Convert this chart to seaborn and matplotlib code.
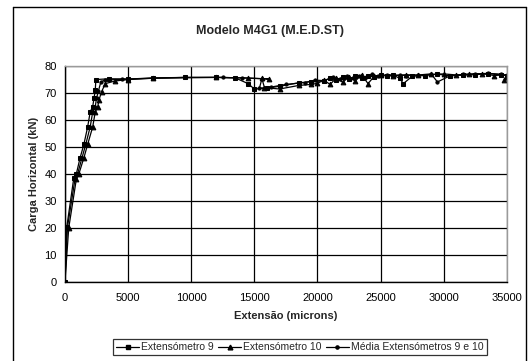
import matplotlib
matplotlib.use("Agg")
import matplotlib.pyplot as plt
import seaborn as sns
import pandas as pd
from matplotlib.lines import Line2D

sns.set_style("white")
plt.rcParams["font.family"] = ["Liberation Sans", "DejaVu Sans"]

title = "Modelo M4G1 (M.E.D.ST)"
xlabel = "Extensão (microns)"
ylabel = "Carga Horizontal (kN)"
series_names = ["Extensómetro 9", "Extensómetro 10", "Média Extensómetros 9 e 10"]

# Extensómetro 9
ext9_x = [0, 150, 700, 900, 1200, 1500, 1800, 2000, 2200, 2300, 2400, 2450, 3500, 5000,
          7000, 9500, 12000, 13500, 14500, 15000, 16000, 17000, 18500, 19500, 20500,
          21000, 21500, 22000, 22500, 23000, 23500, 24000, 24500, 25000, 25500, 26000,
          26500, 26800, 27500, 28500, 29500, 30500, 31500, 32500, 33500, 34500, 35000]
ext9_y = [0, 20.5, 38.5, 40, 46, 51, 57.5, 63, 65, 68, 71, 75, 75.3, 75.2,
          75.6, 75.8, 75.8, 75.6, 73.5, 71.5, 71.8, 72.5, 73.8, 74.2, 74.5,
          75.5, 74.8, 75.8, 75.2, 76.2, 75.6, 76.5, 75.8, 76.8, 76.2, 76.6,
          75.5, 73.5, 76.2, 76.5, 77.0, 76.4, 76.6, 76.8, 77.2, 76.8, 76.5]

# Extensómetro 10
ext10_x = [0, 300, 900, 1100, 1500, 1800, 2200, 2400, 2600, 2700, 2900, 3200, 4000, 5000,
           7000, 12000, 14500, 16200, 15600, 15800, 17000, 18500, 19500, 20000, 20500,
           21000, 21500, 22000, 22500, 23000, 23500, 24000, 24500, 25000, 26000,
           27000, 28000, 29000, 30000, 31000, 32000, 33000, 34000, 35000, 35200, 34800]
ext10_y = [0, 20, 38, 40, 46, 51, 57.5, 63, 65, 67.5, 70.5, 73.5, 74.5, 75,
           75.5, 75.8, 75.6, 75.2, 75.4, 72, 71.5, 72.8, 73.2, 73.6, 74.8,
           73.2, 75.6, 74, 76, 74.5, 76.8, 73.5, 76.2, 76.6, 76.4,
           76.8, 76.6, 76.9, 77.1, 76.7, 77.0, 77.2, 76.5, 76.8, 75.5, 75.0]

# Média Extensómetros 9 e 10
med_x = [0, 200, 800, 1000, 1350, 1650, 2000, 2200, 2400, 2500, 2650, 2850, 3200, 4500,
         7000, 9500, 12500, 14000, 15600, 15400, 16300, 17500, 19000, 19800, 20500,
         21200, 21800, 22300, 22800, 23300, 23800, 24300, 24800, 25500, 26500,
         27000, 28000, 29000, 29500, 30500, 31500, 32500, 33500, 34500, 35100, 34900]
med_y = [0, 20.3, 38.2, 40, 46, 51, 57.5, 63, 65, 68, 70.8, 74.2, 74.8, 75.1,
         75.5, 75.8, 75.8, 75.6, 75.3, 71.8, 72.2, 73.2, 73.9, 74.8, 74.6,
         75.8, 75.2, 76.3, 75.4, 76.5, 75.6, 76.9, 76.2, 76.8, 76.6,
         76.5, 76.7, 77.1, 74.1, 76.4, 76.9, 77.1, 77.3, 77.0, 76.2, 75.6]

frames = []
for name, xs, ys in [(series_names[0], ext9_x, ext9_y),
                     (series_names[1], ext10_x, ext10_y),
                     (series_names[2], med_x, med_y)]:
    frames.append(pd.DataFrame({"x": xs, "y": ys, "serie": name}))
df = pd.concat(frames, ignore_index=True)

fig = plt.figure(figsize=(5.28, 3.61), dpi=100)
ax = fig.add_axes([0.123, 0.219, 0.837, 0.598])

markers = {series_names[0]: "s", series_names[1]: "^", series_names[2]: "o"}
sizes = {series_names[0]: 3.0, series_names[1]: 3.4, series_names[2]: 2.3}
for name in series_names:
    sub = df[df["serie"] == name]
    sns.lineplot(data=sub, x="x", y="y", sort=False, estimator=None, ax=ax,
                 color="black", linewidth=0.9, marker=markers[name],
                 markersize=sizes[name], markeredgecolor="black",
                 markerfacecolor="black", legend=False)

ax.set_xlim(0, 35000)
ax.set_ylim(0, 80)
ax.set_xticks(range(0, 35001, 5000))
ax.set_yticks(range(0, 81, 10))
ax.grid(True, color="black", linewidth=0.9)
ax.set_axisbelow(True)
for side in ["left", "bottom"]:
    ax.spines[side].set_color("black")
    ax.spines[side].set_linewidth(1.0)
for side in ["top", "right"]:
    ax.spines[side].set_color("#9a9a9a")
    ax.spines[side].set_linewidth(1.0)
ax.tick_params(axis="both", direction="out", length=3, width=0.9,
               labelsize=8, colors="black")
ax.tick_params(axis="y", pad=3)
ax.tick_params(axis="x", pad=5)
ax.set_xlabel(xlabel, fontsize=8, fontweight="bold", labelpad=6)
ax.set_ylabel(ylabel, fontsize=8, fontweight="bold", labelpad=4)
fig.text(0.512, 0.915, title, ha="center", va="center",
         fontsize=9, fontweight="bold")

handles = [Line2D([0], [0], color="black", linewidth=0.9, marker=markers[n],
                  markersize=sizes[n], markerfacecolor="black") for n in series_names]
leg = fig.legend(handles, series_names, loc="center", bbox_to_anchor=(0.568, 0.038),
                 ncol=3, fontsize=7.5, frameon=True, fancybox=False,
                 handlelength=2.2, handletextpad=0.2, columnspacing=0.4,
                 borderpad=0.3, markerscale=1.0)
leg.get_frame().set_edgecolor("black")
leg.get_frame().set_linewidth(0.9)

# outer chart border
x0, y0, x1 = 13 / 528, 1 - 7 / 361, 526 / 528
fig.add_artist(Line2D([x0, x0], [0, y0], transform=fig.transFigure, color="black", linewidth=1.0))
fig.add_artist(Line2D([x0, x1], [y0, y0], transform=fig.transFigure, color="black", linewidth=1.0))
fig.add_artist(Line2D([x1, x1], [0, y0], transform=fig.transFigure, color="black", linewidth=1.0))

fig.savefig("out.png", dpi=100)
